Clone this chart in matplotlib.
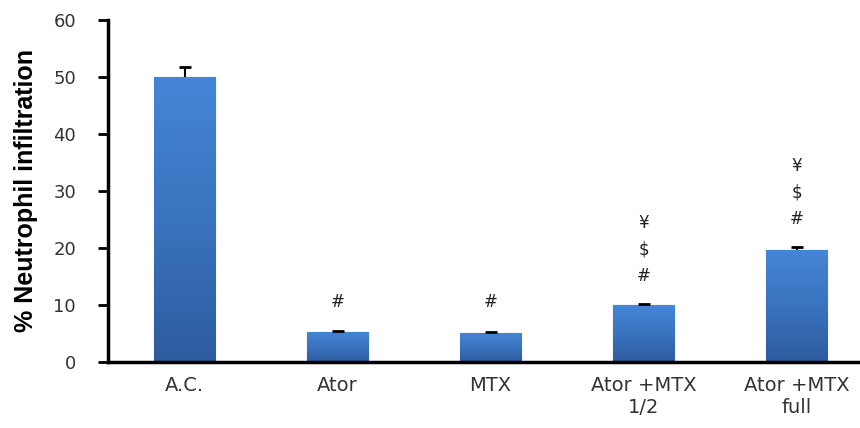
import matplotlib.pyplot as plt
import numpy as np
from matplotlib.colors import LinearSegmentedColormap

groups = ["A.C.", "Ator", "MTX", "Ator +MTX\n1/2", "Ator +MTX\nfull"]
values = [50.0, 5.3, 5.1, 10.0, 19.6]
errors = [1.7, 0.2, 0.2, 0.1, 0.5]
marks = [[], ["#"], ["#"], ["#", "$", "¥"], ["#", "$", "¥"]]
mark_base = [0, 10.5, 10.5, 15.1, 25.1]

fig = plt.figure(figsize=(8.6, 4.28), dpi=100)
ax = fig.add_axes([108 / 860, 66 / 428, 765 / 860, 342 / 428])

x = np.arange(len(groups))
width = 0.4

# gradient fill for each bar
grad = np.linspace(0, 1, 256).reshape(-1, 1)
cmap = LinearSegmentedColormap.from_list("bar", ["#2d5c9e", "#3a73bf", "#4586d6"])
bars = ax.bar(x, values, width, color="#3a74c2", edgecolor="#2a528a", linewidth=0.8, zorder=2)
for b in bars:
    x0, y0 = b.get_x(), b.get_y()
    w, h = b.get_width(), b.get_height()
    im = ax.imshow(grad, cmap=cmap, aspect="auto", origin="lower",
                   extent=[x0, x0 + w, y0, y0 + h], zorder=2.5)
    im.set_clip_path(b)

eb = ax.errorbar(x, values, yerr=[np.zeros(len(errors)), errors], fmt="none",
                 ecolor="black", elinewidth=1.5, capsize=4, capthick=2, zorder=3)
eb[1][0].set_visible(False)  # only the upper cap

for i, ms in enumerate(marks):
    for j, m in enumerate(ms):
        ax.text(x[i], mark_base[i] + j * 4.6, m, ha="center", va="center",
                fontsize=12, color="#222222", family="DejaVu Sans")

ax.set_xlim(-0.5, 4.5)
ax.set_ylim(0, 60)
ax.set_yticks(range(0, 61, 10))
ax.set_xticks(x)
ax.set_xticklabels(groups, fontsize=14, color="#333333", linespacing=1.2)
ax.tick_params(axis="x", length=0, pad=10)
ax.tick_params(axis="y", direction="out", length=7, width=2, pad=16,
               labelsize=13, labelcolor="#333333")

ax.spines["right"].set_visible(False)
ax.spines["top"].set_visible(False)
ax.spines["left"].set_linewidth(2.5)
ax.spines["bottom"].set_linewidth(2.5)

ax.set_ylabel("% Neutrophil infiltration", fontsize=18, fontweight="bold",
              family=["Liberation Sans", "DejaVu Sans"], labelpad=11)

fig.savefig("out.png", dpi=100)
